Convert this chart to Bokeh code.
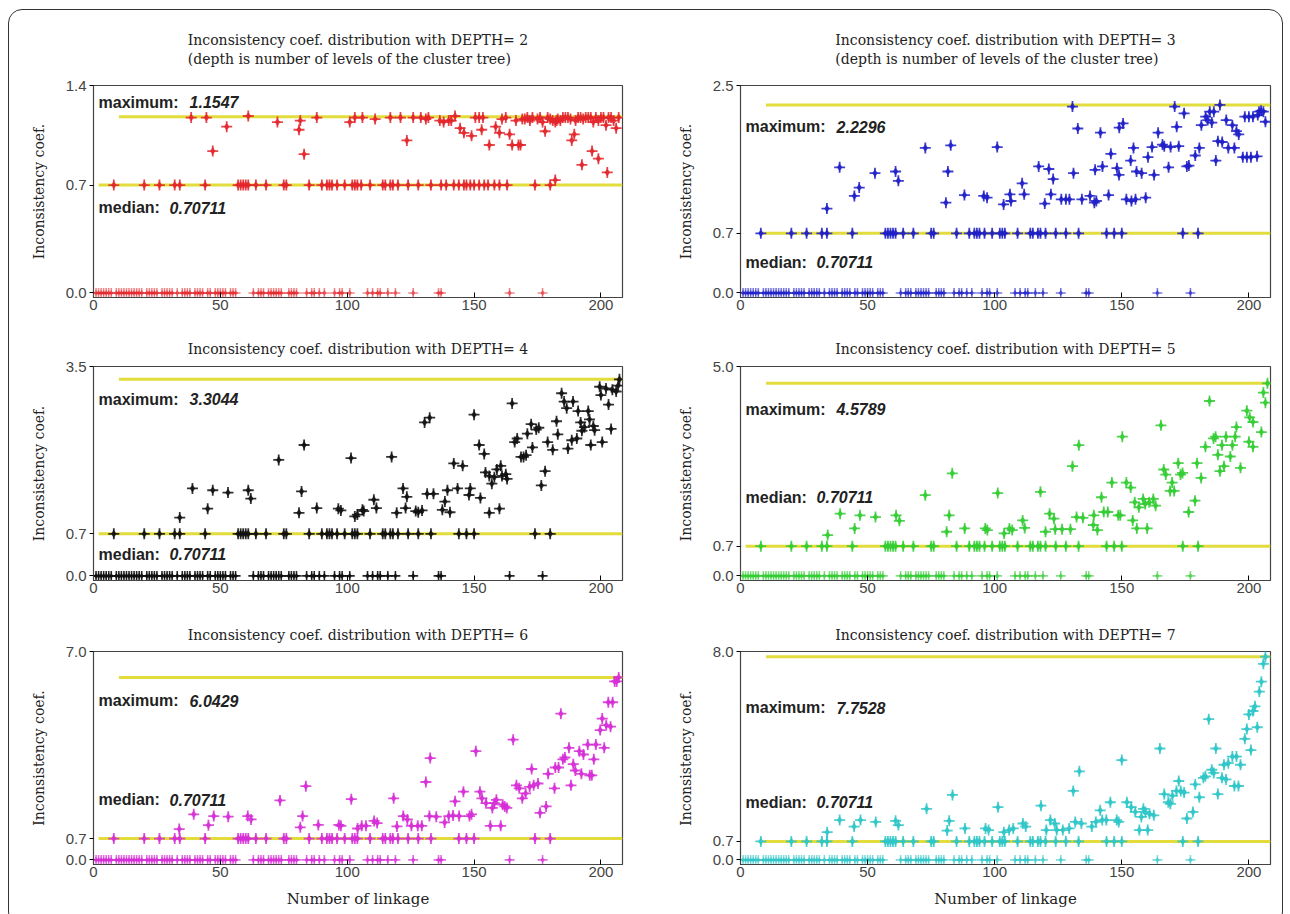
from bokeh.plotting import figure
from bokeh.layouts import column, row
from bokeh.models import FixedTicker, Label, ColumnDataSource, InlineStyleSheet
from bokeh.embed import file_html
from bokeh.resources import INLINE

# ---------------- data ----------------
x_max = 208.5
median_value = 0.70711

zero_x = [1, 2, 3, 4, 5, 6, 7, 9, 10, 11, 12, 13, 14, 15, 16, 17, 18, 19, 21, 22, 23, 24, 25,
          27, 28, 29, 30, 31, 33, 35, 36, 37, 38, 40, 41, 42, 43, 45, 46, 48, 49, 50, 51, 52,
          54, 55, 56, 63, 65, 66, 67, 69, 70, 71, 72, 73, 74, 77, 78, 79, 80, 84, 86, 87, 89,
          91, 95, 97, 98, 101, 108, 110, 112, 113, 116, 119, 126, 136, 137, 164, 177]

median_x = [8, 20, 26, 32, 34, 44, 57, 58, 59, 60, 61, 64, 68, 75, 76, 85, 90, 92, 93, 94, 96,
            99, 102, 103, 104, 109, 114, 115, 117, 118, 120, 124, 128, 133, 144, 147, 150, 174, 180]

depth2 = [(38.5, 1.15), (44.5, 1.15), (47, 0.93), (52.5, 1.09), (61, 1.16), (72.5, 1.12),
          (81, 1.07), (81.5, 1.13), (83, 0.91), (88, 1.15), (101, 1.12), (103, 1.15), (106, 1.15),
          (111, 1.14), (117, 1.15), (121, 1.15), (123.5, 1.0), (126, 1.15), (129, 1.15), (131, 1.14),
          (132, 1.15), (136.5, 1.13), (138, 1.12), (140, 1.13), (141, 1.13), (142.5, 1.16),
          (144.5, 1.08), (146, 1.05), (149, 1.03), (150.5, 1.15), (152, 1.15), (153.5, 1.15),
          (153, 1.07), (156, 0.97), (158.5, 1.09), (160, 1.05), (161, 1.14), (162.5, 1.15),
          (164, 1.04), (165, 0.97), (167.5, 0.97), (168.3, 0.97), (166.5, 1.13), (169, 1.14),
          (170, 1.14), (171, 1.15), (172, 1.13), (173, 1.15), (175, 1.14), (176, 1.15), (177, 1.12),
          (178, 1.06), (179, 1.15), (180, 1.14), (181, 1.13), (182, 1.12), (182.5, 1.13),
          (183, 1.14), (184, 1.13), (185, 1.15), (186, 1.15), (187, 1.15), (188, 1.14),
          (188.5, 1.00), (189.5, 1.04), (190, 1.13), (191, 1.15), (192, 1.15), (193, 1.14),
          (194, 1.15), (195, 1.15), (196, 1.15), (197, 1.12), (198, 1.15), (199, 1.13), (200, 1.15),
          (201, 1.15), (202, 1.10), (203, 1.15), (204, 1.15), (205, 1.13), (206, 1.08), (207, 1.15),
          (182, 0.74), (192.5, 0.84), (196.5, 0.93), (199, 0.88), (202.5, 0.79),
          (105.5, 0.7071), (137, 0.7071), (139, 0.7071), (142, 0.7071), (146, 0.7071),
          (148.5, 0.7071), (152, 0.7071), (154, 0.7071), (155.5, 0.7071), (158, 0.7071),
          (160, 0.7071), (163, 0.7071)]

depth3 = [(34, 1.0), (39, 1.49), (44.8, 1.15), (46.7, 1.25), (52.9, 1.42), (61, 1.44), (62.1, 1.33),
          (72.7, 1.72), (80.8, 1.07), (81.6, 1.44), (82.7, 1.75), (88.1, 1.16), (95.7, 1.15),
          (97, 1.13), (101, 1.73), (103.5, 1.05), (106, 1.17), (106.4, 1.09), (110.8, 1.30),
          (111.6, 1.17), (117.3, 1.50), (121.3, 1.47), (123, 1.35), (119.7, 1.06), (122.1, 1.17),
          (126.2, 1.11), (128, 1.11), (129.4, 1.11), (130.6, 2.21), (132.7, 1.95), (131, 1.42),
          (134.3, 1.11), (137.5, 1.15), (139.2, 1.07), (140, 1.09), (139.5, 1.46), (141.6, 1.90),
          (142.4, 1.50), (144.8, 1.16), (145.7, 1.65), (148.1, 1.48), (148.9, 1.40), (149, 1.96),
          (150.5, 2.01), (151.8, 1.11), (153.8, 1.09), (155.4, 1.11), (153.5, 1.57), (154.6, 1.72),
          (155.8, 1.44), (157.8, 1.42), (159.4, 1.13), (160.3, 1.61), (161.9, 1.73), (162.7, 1.40),
          (164.3, 1.90), (166, 1.76), (166.7, 1.74), (168.4, 1.49), (169.2, 1.73), (170.8, 2.21),
          (171.6, 1.97), (172.4, 1.74), (174.5, 2.13), (175.6, 1.50), (176.4, 1.51), (178.9, 1.63),
          (180.5, 1.72), (181.3, 1.99), (183, 2.09), (183.8, 2.05), (185.4, 2.02), (184.6, 2.15),
          (186.2, 2.15), (187, 1.57), (187.8, 1.80), (188.6, 2.23), (189.5, 1.79), (191.1, 2.05),
          (191.9, 1.72), (193.5, 1.99), (194.3, 1.72), (195.1, 1.92), (196, 1.88), (197.6, 1.61),
          (199.2, 1.61), (200.8, 1.61), (203.2, 1.62), (198.4, 2.09), (200, 2.09), (201.6, 2.09),
          (203.5, 2.11), (204, 2.15), (204.8, 2.16), (205.7, 2.15), (206.5, 2.03)]

depth4 = [(34, 0.98), (39, 1.47), (45, 1.13), (47, 1.44), (53, 1.40), (61, 1.44), (62, 1.30),
          (73, 1.95), (83, 2.2), (82, 1.42), (81, 1.06), (88, 1.14), (96.5, 1.13), (97.5, 1.10),
          (101.5, 1.98), (103, 1.0), (104, 1.03), (106, 1.11), (106.5, 1.09), (110.5, 1.28),
          (111.5, 1.14), (117.5, 2.0), (119.5, 1.06), (122, 1.47), (123.5, 1.33), (123, 1.14),
          (127, 1.09), (128, 1.07), (129.5, 1.10), (130.5, 2.58), (132.5, 2.66), (131.5, 1.38),
          (134, 1.38), (137.5, 1.11), (138.5, 1.25), (140.5, 1.07), (139.5, 1.44), (142, 1.89),
          (143.5, 1.47), (145.5, 1.85), (148, 1.36), (148.5, 1.47), (150, 2.71), (152.5, 1.31),
          (152, 2.2), (154, 2.05), (154.5, 1.74), (156, 1.68), (157, 1.55), (158, 1.66), (159, 1.79),
          (160.5, 1.85), (161, 1.68), (162.5, 1.71), (163, 1.63), (156, 1.06), (160, 1.13),
          (165, 2.9), (166, 2.25), (167, 2.31), (168.5, 2.0), (169.5, 2.0), (170.5, 2.03),
          (171, 2.39), (172.5, 2.55), (173, 2.16), (174.5, 2.46), (175.5, 2.49), (176.5, 1.52),
          (178, 1.76), (179, 2.25), (181, 2.12), (182.5, 2.6), (183, 2.38), (184.5, 3.07),
          (185.5, 2.93), (186.5, 2.82), (189, 2.93), (191, 2.77), (192, 2.58), (193.5, 2.5),
          (195, 2.77), (195.5, 2.63), (197, 2.52), (197.5, 2.45), (187, 2.14), (188.5, 2.28),
          (190.5, 2.31), (192.5, 2.44), (196, 2.2), (200.5, 2.25), (199.5, 3.18), (200, 3.04),
          (202, 3.15), (203, 2.88), (204, 2.47), (204.5, 3.13), (206, 3.1), (206.8, 3.2),
          (207.3, 3.3044)]

depth5 = [(34.3, 0.97), (39.2, 1.48), (44.9, 1.13), (47, 1.44), (53.1, 1.40), (61.2, 1.44),
          (62.5, 1.31), (72.7, 1.92), (81.1, 1.05), (82.1, 1.44), (83.3, 2.44), (88.2, 1.13),
          (96.3, 1.13), (97.1, 1.09), (101.2, 1.97), (103.7, 1.01), (105.8, 1.13), (106.9, 1.09),
          (111, 1.32), (111.8, 1.14), (118, 2.0), (120, 1.05), (121.6, 1.48), (123.3, 1.36),
          (123.8, 1.11), (126.5, 1.11), (129.8, 1.11), (130.6, 2.61), (133.1, 3.11), (132.2, 1.40),
          (134.7, 1.38), (138.8, 1.21), (140.4, 1.09), (142, 1.87), (139, 1.44), (142.9, 1.52),
          (144.5, 1.52), (146.1, 2.22), (148.6, 1.44), (149.4, 1.44), (150.2, 3.31), (151.8, 2.22),
          (153.5, 2.1), (154.3, 1.32), (155.1, 1.75), (156.7, 1.63), (158.4, 1.83), (159.2, 1.71),
          (160.8, 1.75), (162.4, 1.83), (163.3, 1.67), (155.9, 1.13), (160, 1.13), (165.4, 3.58),
          (166.5, 2.53), (167.3, 2.41), (169, 2.02), (169.8, 2.22), (170.6, 2.02), (172.2, 2.68),
          (173.1, 2.41), (173.9, 2.45), (176.3, 1.52), (178.8, 1.79), (179.6, 2.68), (181.2, 2.33),
          (182.9, 3.07), (184.5, 4.16), (186.1, 3.27), (186.9, 3.31), (187.8, 2.88), (188.6, 2.49),
          (189.4, 3.11), (190.2, 2.61), (191, 3.31), (192.7, 2.84), (193.5, 3.11), (194.6, 3.31),
          (196.7, 2.57), (195.1, 3.54), (199.2, 3.93), (200.3, 3.77), (201.6, 3.07), (204.9, 3.42),
          (205.7, 4.36), (206.5, 4.12), (207.3, 4.5789), (200, 3.19), (201.6, 3.66)]

depth6 = [(33.8, 1.02), (39.5, 1.51), (45.3, 1.15), (47.4, 1.45), (53.1, 1.43), (60.8, 1.45),
          (62.1, 1.34), (73.5, 1.97), (81.5, 1.08), (82.4, 1.45), (83.7, 2.44), (88.6, 1.16),
          (96.7, 1.16), (97.5, 1.13), (101.6, 2.01), (104.1, 1.04), (105.7, 1.13), (107.4, 1.13),
          (110.6, 1.29), (111.8, 1.22), (118.3, 2.04), (119.6, 1.11), (122.1, 1.45), (123.7, 1.34),
          (125.3, 1.13), (127.8, 1.13), (129.4, 1.13), (131, 2.58), (132.7, 3.37), (132.4, 1.45),
          (135.1, 1.43), (138.4, 1.24), (140, 1.45), (141.7, 1.47), (142.5, 1.94), (144.1, 1.45),
          (145.8, 2.26), (148.2, 1.45), (149, 1.51), (150.7, 3.6), (152.3, 2.26), (153.1, 2.04),
          (154.7, 1.88), (156.4, 1.13), (157.2, 1.72), (158, 1.88), (158.8, 1.99), (160.5, 1.13),
          (161.3, 1.83), (162.1, 1.77), (162.9, 1.72), (165.4, 3.98), (166.7, 2.47), (167.8, 2.37),
          (169, 2.04), (170.3, 2.2), (171.9, 2.42), (172.7, 3.01), (173.5, 2.47), (175.2, 2.53),
          (176, 1.56), (178.4, 1.77), (179.2, 2.85), (181.7, 2.37), (182, 3.06), (183.3, 3.06),
          (184.2, 4.84), (185, 3.33), (185.8, 3.39), (187.4, 3.71), (188.2, 2.47), (189.1, 3.17),
          (189.9, 2.96), (191.5, 3.6), (192.3, 2.85), (193.1, 3.49), (194.8, 3.82), (195.6, 2.8),
          (196.4, 2.8), (197.2, 3.33), (198, 3.82), (199.7, 4.3), (200.5, 4.68), (201.3, 3.71),
          (202.1, 4.46), (202.9, 5.22), (203.8, 4.41), (204.6, 5.22), (205.4, 5.91), (206.2, 5.91),
          (207, 6.0429)]

depth7 = [(34.1, 1.06), (39, 1.52), (44.7, 1.27), (47.2, 1.52), (53.2, 1.45), (61, 1.49),
          (62.1, 1.33), (73.2, 1.95), (81.3, 1.12), (82.1, 1.49), (83.4, 2.48), (88.3, 1.2),
          (96.4, 1.2), (97.6, 1.14), (101.3, 2.01), (103.6, 1.06), (105.7, 1.14), (107.3, 1.2),
          (111.1, 1.39), (112.2, 1.27), (118.2, 2.07), (120.3, 1.14), (121.9, 1.52), (123.6, 1.39),
          (124.4, 1.14), (126.8, 1.14), (129.3, 1.2), (130.9, 2.63), (133.3, 3.38), (131.7, 1.45),
          (134.1, 1.39), (138.2, 1.27), (139.8, 1.45), (141.5, 1.89), (142.3, 1.52), (143.9, 1.52),
          (145.5, 2.2), (148, 1.52), (148.8, 1.45), (150, 3.81), (152, 2.2), (153.7, 2.01),
          (155.3, 1.83), (156.9, 1.14), (157.7, 1.64), (158.5, 1.95), (159.3, 1.83), (160.9, 1.76),
          (162.6, 1.7), (160.2, 1.14), (165, 4.25), (166.7, 2.51), (168.3, 2.2), (169.1, 2.14),
          (169.9, 2.45), (171.5, 2.63), (172.4, 3.01), (173.2, 2.63), (174.5, 2.57), (175.6, 1.58),
          (178, 1.83), (178.9, 2.88), (180.5, 2.39), (182.1, 3.13), (182.9, 3.19), (184.2, 5.37),
          (185.4, 3.44), (186.2, 3.32), (187, 4.25), (187.8, 2.51), (189.4, 3.13), (190.2, 3.63),
          (191, 3.07), (191.9, 3.69), (193.5, 3.94), (194.3, 2.82), (195.1, 3.94), (195.9, 2.82),
          (196.7, 3.63), (198.4, 4.62), (199.2, 4.99), (200, 5.55), (200.8, 4.19), (201.6, 5.68),
          (202.4, 5.86), (203.3, 5.06), (204.1, 6.42), (204.9, 6.8), (205.7, 7.48), (206.5, 7.7528)]

depth_points = {2: depth2, 3: depth3, 4: depth4, 5: depth5, 6: depth6, 7: depth7}
max_values = {2: 1.1547, 3: 2.2296, 4: 3.3044, 5: 4.5789, 6: 6.0429, 7: 7.7528}
max_texts = {2: "1.1547", 3: "2.2296", 4: "3.3044", 5: "4.5789", 6: "6.0429", 7: "7.7528"}
y_tops = {2: 1.36, 3: 2.46, 4: 3.52, 5: 4.98, 6: 6.9, 7: 7.95}
y_top_labels = {2: "1.4", 3: "2.5", 4: "3.5", 5: "5.0", 6: "7.0", 7: "8.0"}
colors = {2: "#e3262b", 3: "#1f1fc8", 4: "#111111", 5: "#33cc33", 6: "#d62ed6", 7: "#2ec6c8"}
zero_alpha = {2: 0.55, 3: 0.6, 4: 0.9, 5: 0.6, 6: 0.7, 7: 0.6}

# text placement (data y) for annotation labels and line starts (style constants)
max_text_y = {2: 1.25, 3: 1.97, 4: 2.97, 5: 3.96, 6: 5.27, 7: 5.8}
median_text_y = {2: 0.56, 3: 0.365, 4: 0.36, 5: 1.87, 6: 2.0, 7: 2.2}
median_line_start = {2: 2, 3: 8, 4: 2, 5: 2, 6: 2, 7: 9}

SERIF = "DejaVu Serif"
SANS = "Liberation Sans"
LINE_YELLOW = "#e2dc3c"


def make_panel(depth, col, rowi):
    top = y_tops[depth]
    bottom = -0.022 * top
    heights = [320, 285, 309]
    tops = [85, 46, 46]
    bottoms = [23, 25, 50]
    standoffs = [36, 20, 17]
    w = 645
    if col == 0:
        bl, br = 93, 23
    else:
        bl, br = 95, 20
    p = figure(width=w, height=heights[rowi], x_range=(0, x_max), y_range=(bottom, top),
               output_backend="svg", toolbar_location=None,
               min_border_left=bl, min_border_right=br,
               min_border_top=tops[rowi], min_border_bottom=bottoms[rowi])
    p.xgrid.visible = False
    p.ygrid.visible = False
    p.outline_line_color = "#444444"
    p.outline_line_width = 1.2
    p.background_fill_color = "white"
    p.border_fill_color = "white"

    title = "Inconsistency coef. distribution with DEPTH= %d" % depth
    if depth in (2, 3):
        title += "\n(depth is number of levels of the cluster tree)"
    p.title.text = title
    p.title.align = "center"
    p.title.text_font = SERIF
    p.title.text_font_size = "14px"
    p.title.text_font_style = "normal"
    p.title.text_color = "#222222"
    p.title.text_line_height = 1.22
    p.title.standoff = standoffs[rowi]

    xt = FixedTicker(ticks=[0, 50, 100, 150, 200])
    yt = FixedTicker(ticks=[0, 0.7071, top])
    ax = p.xaxis[0]
    ax.ticker = xt
    ax.major_tick_in = 5
    ax.major_tick_out = 0
    ax.minor_tick_line_color = None
    ax.axis_line_color = "#444444"
    ax.major_label_text_font = SANS
    ax.major_label_text_font_size = "15px"
    ax.major_label_text_color = "#444444"
    ax.major_label_standoff = 2
    if rowi == 2:
        ax.axis_label = "Number of linkage"
        ax.axis_label_text_font = SERIF
        ax.axis_label_text_font_size = "15px"
        ax.axis_label_text_font_style = "normal"
        ax.axis_label_text_color = "#222222"
        ax.axis_label_standoff = 10

    ay = p.yaxis[0]
    ay.ticker = yt
    ay.major_label_overrides = {0: "0.0", 0.7071: "0.7", top: y_top_labels[depth]}
    ay.major_tick_in = 0
    ay.major_tick_out = 4
    ay.minor_tick_line_color = None
    ay.axis_line_color = "#444444"
    ay.major_label_text_font = SANS
    ay.major_label_text_font_size = "15px"
    ay.major_label_text_color = "#444444"
    ay.major_label_standoff = 3
    ay.axis_label = "Inconsistency coef."
    ay.axis_label_text_font = SERIF
    ay.axis_label_text_font_size = "14px"
    ay.axis_label_text_font_style = "normal"
    ay.axis_label_text_color = "#222222"
    ay.axis_label_standoff = 16

    # reference lines
    p.line([median_line_start[depth], x_max], [median_value, median_value],
           line_color=LINE_YELLOW, line_width=3)
    p.line([10, x_max], [max_values[depth], max_values[depth]], line_color=LINE_YELLOW, line_width=3)

    c = colors[depth]
    pts = depth_points[depth]
    zsrc = ColumnDataSource(dict(x=zero_x, y=[0.0] * len(zero_x)))
    xs = median_x + [q[0] for q in pts]
    ys = [median_value] * len(median_x) + [q[1] for q in pts]
    src = ColumnDataSource(dict(x=xs, y=ys))
    za = zero_alpha[depth]
    p.scatter("x", "y", source=zsrc, marker="cross", size=10, line_color=c, line_width=1.6,
              line_alpha=za)
    p.scatter("x", "y", source=zsrc, marker="diamond", size=5, fill_color=c, line_color=c,
              fill_alpha=za, line_alpha=za * 0.6)
    p.scatter("x", "y", source=src, marker="cross", size=11, line_color=c, line_width=1.8,
              line_alpha=0.85)
    p.scatter("x", "y", source=src, marker="diamond", size=7, fill_color=c, line_color=c,
              fill_alpha=0.85, line_alpha=0.5)

    # annotations
    for ty, head, val, off in [(max_text_y[depth], "maximum:", max_texts[depth], 91),
                               (median_text_y[depth], "median:", "0.70711", 71)]:
        p.add_layout(Label(x=2, y=ty, text=head, text_font=SANS, text_font_size="16px",
                           text_font_style="bold", text_color="#222222", text_baseline="middle"))
        p.add_layout(Label(x=2, y=ty, x_offset=off, text=val, text_font=SANS,
                           text_font_size="16px", text_font_style="bold italic",
                           text_color="#222222", text_baseline="middle"))
    return p


panels = [[make_panel(2, 0, 0), make_panel(3, 1, 0)],
          [make_panel(4, 0, 1), make_panel(5, 1, 1)],
          [make_panel(6, 0, 2), make_panel(7, 1, 2)]]

frame_css = InlineStyleSheet(css="""
:host::after {
  content: "";
  position: absolute;
  left: 8px; top: 9px; right: 7px; bottom: -12px;
  border: 1.5px solid #333;
  border-radius: 14px;
  pointer-events: none;
}
""")

layout = column(*[row(*r) for r in panels], stylesheets=[frame_css])

open("out.html", "w").write(file_html(layout, INLINE, title="Inconsistency coefficients"))
